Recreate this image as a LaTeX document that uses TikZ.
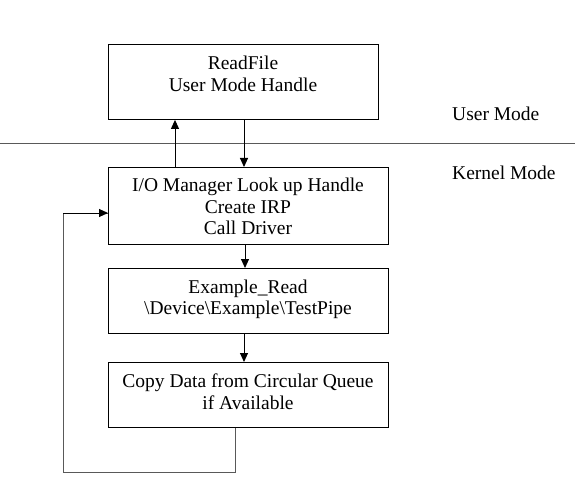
\documentclass[tikz,border=0pt]{standalone}
\usepackage{fontspec}
\setmainfont{Liberation Serif}
\usetikzlibrary{arrows.meta}
\begin{document}
\begin{tikzpicture}[x=1pt,y=-1pt,
  boxst/.style={draw=black,line width=0.9pt,inner sep=0pt,anchor=north west},
  txt/.style={font=\fontsize{19.5}{21.5}\selectfont,anchor=north,inner sep=0pt,align=center},
  lbl/.style={font=\fontsize{19.5}{21.5}\selectfont,anchor=base west,inner sep=0pt},
  arr/.style={-{Triangle[length=9pt,width=8pt]},line width=1pt},
  gline/.style={draw=black!65,line width=1pt}]
\useasboundingbox (0,0) rectangle (575,497);
\node[boxst,minimum width=270pt,minimum height=75pt] (rf) at (108,44) {};
\node[txt] (rft) at (243,56) {ReadFile\\User Mode Handle};
\node[boxst,minimum width=280pt,minimum height=77pt] (io) at (108,167) {};
\node[txt] (iot) at (248,178) {I/O Manager Look up Handle\\Create IRP\\Call Driver};
\node[boxst,minimum width=280pt,minimum height=65pt] (ex) at (108,268) {};
\node[txt] (ext) at (248,279.5) {Example\_Read\\\textbackslash Device\textbackslash Example\textbackslash TestPipe};
\node[boxst,minimum width=280pt,minimum height=65pt] (cp) at (108,362) {};
\node[txt] (cpt) at (248,374) {Copy Data from Circular Queue\\if Available};
\node[lbl] (um) at (452,121) {User Mode};
\node[lbl] (km) at (452,179) {Kernel Mode};
\coordinate (l0) at (0,143.5);
\coordinate (l1) at (575,143.5);
\draw[gline] (l0) -- (l1);
\draw[arr] (io.north west) ++(67,0) coordinate (a1) -- (a1 |- rf.south);
\draw[arr] (rf.south west) ++(136,0) coordinate (a2) -- (a2 |- io.north);
\draw[arr] (io.south west) ++(137,0) coordinate (a3) -- (a3 |- ex.north);
\draw[arr] (ex.south west) ++(136,0) coordinate (a4) -- (a4 |- cp.north);
\coordinate (f1) at (235,472);
\coordinate (f2) at (63,472);
\coordinate (f3) at (63,213);
\draw[gline] (cp.south west) ++(127,0) coordinate (f0) -- (f1) -- (f2) -- (f3) -- (f3 -| io.west);
\draw[arr] (f3) -- (f3 -| io.west);
\end{tikzpicture}
\end{document}
